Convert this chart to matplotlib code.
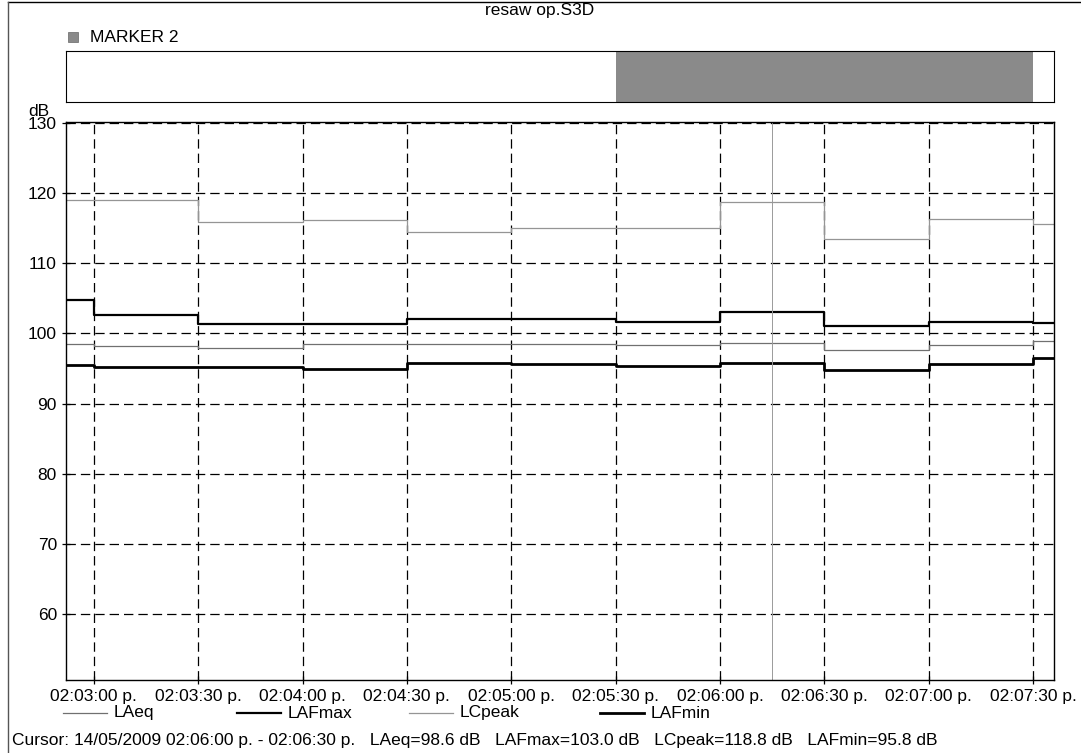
import pandas as pd
import matplotlib
matplotlib.use('Agg')
import matplotlib.pyplot as plt
from matplotlib.lines import Line2D

plt.rcParams['font.family'] = ['Liberation Sans', 'DejaVu Sans']

# intervalles de mesure (debut de chaque intervalle) + fin de l'enregistrement
debuts = ['02:02:52', '02:03:00', '02:03:30', '02:04:00', '02:04:30', '02:05:00',
          '02:05:30', '02:06:00', '02:06:30', '02:07:00', '02:07:30']
fin = '02:07:36'

LAeq = [98.5, 98.2, 98.0, 98.5, 98.5, 98.5, 98.4, 98.6, 97.6, 98.4, 98.9]
LAFmax = [104.8, 102.6, 101.3, 101.3, 102.1, 102.0, 101.7, 103.0, 101.0, 101.7, 101.5]
LCpeak = [119.0, 119.0, 115.9, 116.2, 114.5, 115.0, 115.1, 118.8, 113.4, 116.3, 115.6]
LAFmin = [95.5, 95.2, 95.2, 95.0, 95.8, 95.6, 95.3, 95.8, 94.8, 95.6, 96.5]

ticks = ['02:03:00', '02:03:30', '02:04:00', '02:04:30', '02:05:00',
         '02:05:30', '02:06:00', '02:06:30', '02:07:00', '02:07:30']
tickLabels = [t + ' p.' for t in ticks]

marqueurDebut = '02:05:30'
marqueurFin = '02:07:30'
curseur = '02:06:15'

def sec(h):
    return pd.to_timedelta(h).total_seconds()

x = [sec(t) for t in debuts] + [sec(fin)]
xTicks = [sec(t) for t in ticks]

W, H = 1081, 753
FS = 12.5
fig = plt.figure(figsize=(W / 100, H / 100), dpi=100)

def boite(l, t, r, b):
    return [l / W, 1 - b / H, (r - l) / W, (b - t) / H]

# graphique principal
ax = fig.add_axes(boite(66, 122, 1054, 680))
ax.step(x, LAeq + [LAeq[-1]], where='post', color='#707070', lw=0.9)
ax.step(x, LAFmax + [LAFmax[-1]], where='post', color='black', lw=1.6)
ax.step(x, LCpeak + [LCpeak[-1]], where='post', color='#959595', lw=0.9)
ax.step(x, LAFmin + [LAFmin[-1]], where='post', color='black', lw=2.0)
ax.axvline(sec(curseur), color='#9a9a9a', lw=0.7)

ax.set_xlim(x[0], x[-1])
ax.set_ylim(50.6, 130.15)
ax.set_yticks(range(60, 131, 10))
ax.set_xticks(xTicks)
ax.set_xticklabels(tickLabels)
ax.grid(True, color='black', ls=(0, (7.5, 4)), lw=0.9)
ax.tick_params(axis='both', labelsize=FS, length=6, direction='inout', width=0.9)
for s in ax.spines.values():
    s.set_linewidth(1.0)
ax.text(-0.028, 1.005, 'dB', transform=ax.transAxes, ha='center', va='bottom', fontsize=FS)

# barre des marqueurs
axm = fig.add_axes(boite(66, 51, 1054, 102), sharex=ax)
axm.axvspan(sec(marqueurDebut), sec(marqueurFin), color='#8a8a8a', lw=0)
axm.set_ylim(0, 1)
axm.tick_params(left=False, bottom=False, labelleft=False, labelbottom=False)
axm.grid(False)
axm.set_xlim(x[0], x[-1])

fig.patches.append(plt.Rectangle((68 / W, 1 - 42 / H), 10 / W, 10 / H, transform=fig.transFigure,
                                 facecolor='#8a8a8a', edgecolor='#666666', lw=0.5))
fig.text(90 / W, 1 - 37 / H, 'MARKER 2', fontsize=FS, va='center')
fig.text(540 / W, 1 - 11 / H, 'resaw op.S3D', fontsize=FS, ha='center', va='center')

# cadre
fig.add_artist(Line2D([8 / W, 1], [1 - 2 / H, 1 - 2 / H], color='black', lw=1))
fig.add_artist(Line2D([8 / W, 8 / W], [0, 1 - 2 / H], color='#555555', lw=1))

# legende
noms = ['LAeq', 'LAFmax', 'LCpeak', 'LAFmin']
styles = [('#707070', 0.9), ('black', 1.6), ('#959595', 0.9), ('black', 2.0)]
posX = [63, 237, 409, 600]
for nom, (c, lw), px in zip(noms, styles, posX):
    fig.add_artist(Line2D([px / W, (px + 44) / W], [1 - 713 / H] * 2, color=c, lw=lw))
    fig.text((px + 51) / W, 1 - 713 / H, nom, fontsize=FS, va='center')

fig.text(12 / W, 1 - 740 / H,
         'Cursor: 14/05/2009 02:06:00 p. - 02:06:30 p.   LAeq=98.6 dB   LAFmax=103.0 dB   '
         'LCpeak=118.8 dB   LAFmin=95.8 dB', fontsize=FS, va='center')

fig.savefig('out.png', dpi=100)
